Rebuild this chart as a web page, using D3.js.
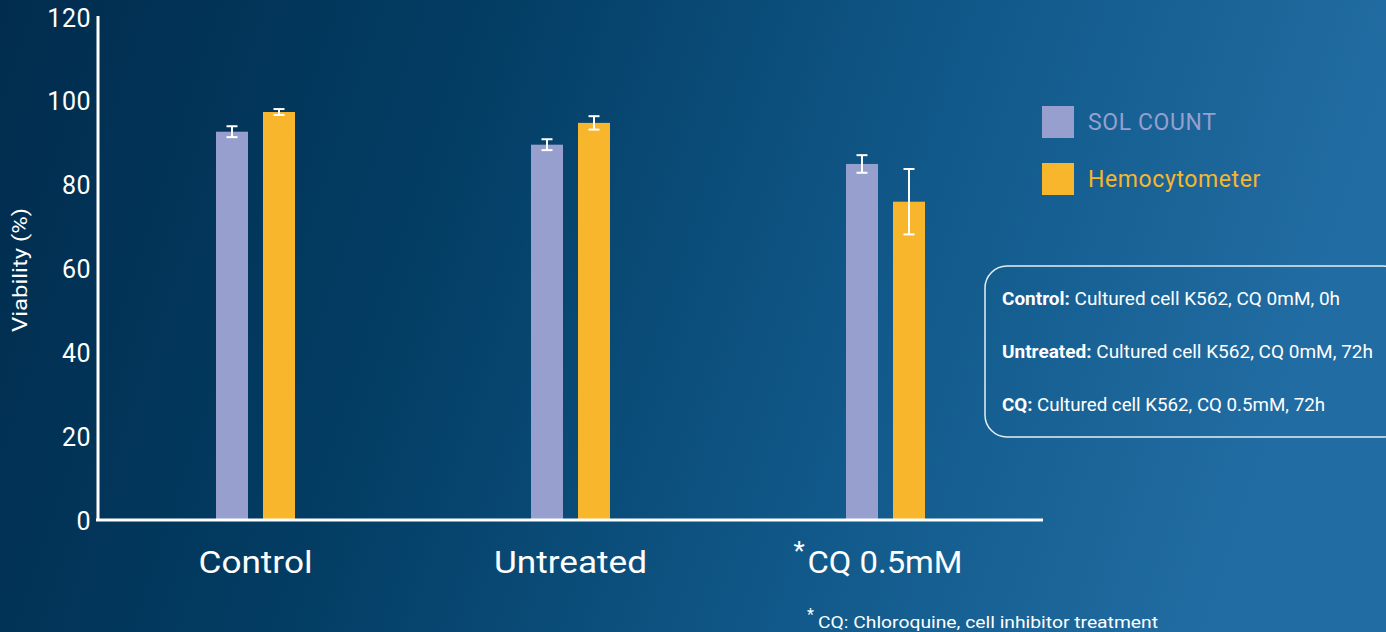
<!DOCTYPE html>
<html><head><meta charset="utf-8">
<script src="https://cdn.jsdelivr.net/npm/d3@7/dist/d3.min.js"></script>
<style>
html,body{margin:0;padding:0;overflow:hidden;}
body{width:1386px;height:632px;}
text{font-family:Roboto,"Noto Sans",sans-serif;}
</style></head>
<body><svg id="c" width="1386" height="632"></svg>
<script>
const categories = ["Control", "Untreated", "CQ 0.5mM"];
const seriesNames = ["SOL COUNT", "Hemocytometer"];
const solValues = [92.4, 89.3, 84.7];
const solErrors = [1.3, 1.3, 2.1];
const hemoValues = [97.1, 94.5, 75.7];
const hemoErrors = [0.7, 1.6, 7.8];
const yTicks = [0, 20, 40, 60, 80, 100, 120];
const notes = [
  ["Control:", " Cultured cell K562, CQ 0mM, 0h"],
  ["Untreated:", " Cultured cell K562, CQ 0mM, 72h"],
  ["CQ:", " Cultured cell K562, CQ 0.5mM, 72h"]
];
const footnote = "CQ: Chloroquine, cell inhibitor treatment";

const colors = ["#979fce", "#f8b62d"];
const svg = d3.select("#c");
const defs = svg.append("defs");
const g = defs.append("linearGradient").attr("id","bg").attr("x1","0").attr("y1","0").attr("x2","1").attr("y2","0.15");
g.append("stop").attr("offset","0").attr("stop-color","#012c4d");
g.append("stop").attr("offset","0.35").attr("stop-color","#033d64");
g.append("stop").attr("offset","0.7").attr("stop-color","#11598a");
g.append("stop").attr("offset","1").attr("stop-color","#216ca2");
svg.append("rect").attr("width",1386).attr("height",632).attr("fill","url(#bg)");

const x0 = 98, x1 = 1043, yBase = 519;
const x = d3.scaleBand().domain(categories).range([x0, x1]);
const y = d3.scaleLinear().domain([0, 120]).range([yBase, 16]);

const data = categories.map((c,i)=>({cat:c, vals:[
  {s:0, v:solValues[i], e:solErrors[i]},
  {s:1, v:hemoValues[i], e:hemoErrors[i]}]}));

const barW = 32, gap = 15;
const xs = d3.scaleOrdinal().domain([0,1]).range([-gap/2-barW, gap/2]);

const groups = svg.append("g").selectAll("g").data(data).join("g")
  .attr("transform", d=>`translate(${x(d.cat)+x.bandwidth()/2},0)`);
groups.selectAll("rect").data(d=>d.vals).join("rect")
  .attr("x", d=>xs(d.s)).attr("width", barW)
  .attr("y", d=>y(d.v)).attr("height", d=>yBase - y(d.v))
  .attr("fill", d=>colors[d.s]);
const eb = groups.selectAll("g.eb").data(d=>d.vals).join("g").attr("class","eb")
  .attr("stroke","#ffffff").attr("stroke-width",2);
eb.append("line").attr("x1",d=>xs(d.s)+barW/2).attr("x2",d=>xs(d.s)+barW/2)
  .attr("y1",d=>y(d.v+d.e)).attr("y2",d=>y(d.v-d.e));
eb.append("line").attr("x1",d=>xs(d.s)+barW/2-5.5).attr("x2",d=>xs(d.s)+barW/2+5.5)
  .attr("y1",d=>y(d.v+d.e)).attr("y2",d=>y(d.v+d.e));
eb.append("line").attr("x1",d=>xs(d.s)+barW/2-5.5).attr("x2",d=>xs(d.s)+barW/2+5.5)
  .attr("y1",d=>y(d.v-d.e)).attr("y2",d=>y(d.v-d.e));

// Y axis
const yAxis = svg.append("g").attr("transform",`translate(${x0},0)`)
  .call(d3.axisLeft(y).tickValues(yTicks).tickSize(0).tickPadding(7));
yAxis.select(".domain").attr("stroke","#fff").attr("stroke-width",3).attr("d",`M0,${y(120)}V${yBase+1}`);
yAxis.selectAll("text").attr("fill","#fff").attr("font-size",25).attr("dy","0.4em").attr("letter-spacing","0.5");

// X axis
const labelW = {"Control":114, "Untreated":153, "CQ 0.5mM":155};
const xAxis = svg.append("g").attr("transform",`translate(0,${yBase+1})`)
  .call(d3.axisBottom(x).tickSize(0).tickPadding(40).tickFormat(()=>""));
xAxis.select(".domain").attr("stroke","#fff").attr("stroke-width",3).attr("d",`M${x0-2},0H${x1}`);
xAxis.selectAll(".tick").each(function(d){
  const g2 = d3.select(this);
  if (d.startsWith("CQ")) {
    g2.append("text").attr("fill","#fff").attr("font-size",26).attr("text-anchor","start").attr("x",-92).attr("y",40).text("*");
    g2.append("text").attr("fill","#fff").attr("font-size",32).attr("text-anchor","start").attr("x",-78).attr("y",53)
      .attr("textLength",labelW[d]).attr("lengthAdjust","spacingAndGlyphs").text(d);
  } else {
    g2.append("text").attr("fill","#fff").attr("font-size",32).attr("y",53).attr("text-anchor","middle")
      .attr("textLength",labelW[d]).attr("lengthAdjust","spacingAndGlyphs").text(d);
  }
});

// Y label
svg.append("text").attr("transform","translate(27,270) rotate(-90)")
  .attr("text-anchor","middle").attr("fill","#fff").attr("font-size",20)
  .attr("textLength",124).attr("lengthAdjust","spacingAndGlyphs").text("Viability (%)");

// Legend
const leg = svg.append("g").selectAll("g").data(seriesNames).join("g")
  .attr("transform",(d,i)=>`translate(1042,${106+i*57})`);
leg.append("rect").attr("width",32).attr("height",32).attr("fill",(d,i)=>colors[i]);
leg.append("text").attr("x",46).attr("y",24).attr("font-size",23).attr("letter-spacing","0.6")
  .attr("fill",(d,i)=>colors[i]).text(d=>d);

// Notes box
svg.append("rect").attr("x",985).attr("y",266).attr("width",420).attr("height",171).attr("rx",22)
  .attr("fill","none").attr("stroke","#e6eef5").attr("stroke-width",1.5);
const widths = [338, 371, 323];
notes.forEach((n,i)=>{
  const t = svg.append("text").attr("x",1002).attr("y",305+i*53).attr("font-size",19).attr("fill","#fff")
    .attr("textLength",widths[i]).attr("lengthAdjust","spacingAndGlyphs");
  t.append("tspan").attr("font-weight","bold").text(n[0]);
  t.append("tspan").text(n[1]);
});

// Footnote
svg.append("text").attr("x",807).attr("y",620).attr("fill","#fff").attr("font-size",16).text("*");
svg.append("text").attr("x",818).attr("y",628).attr("fill","#fff").attr("font-size",17)
  .attr("textLength",340).attr("lengthAdjust","spacingAndGlyphs").text(footnote);
</script></body></html>
